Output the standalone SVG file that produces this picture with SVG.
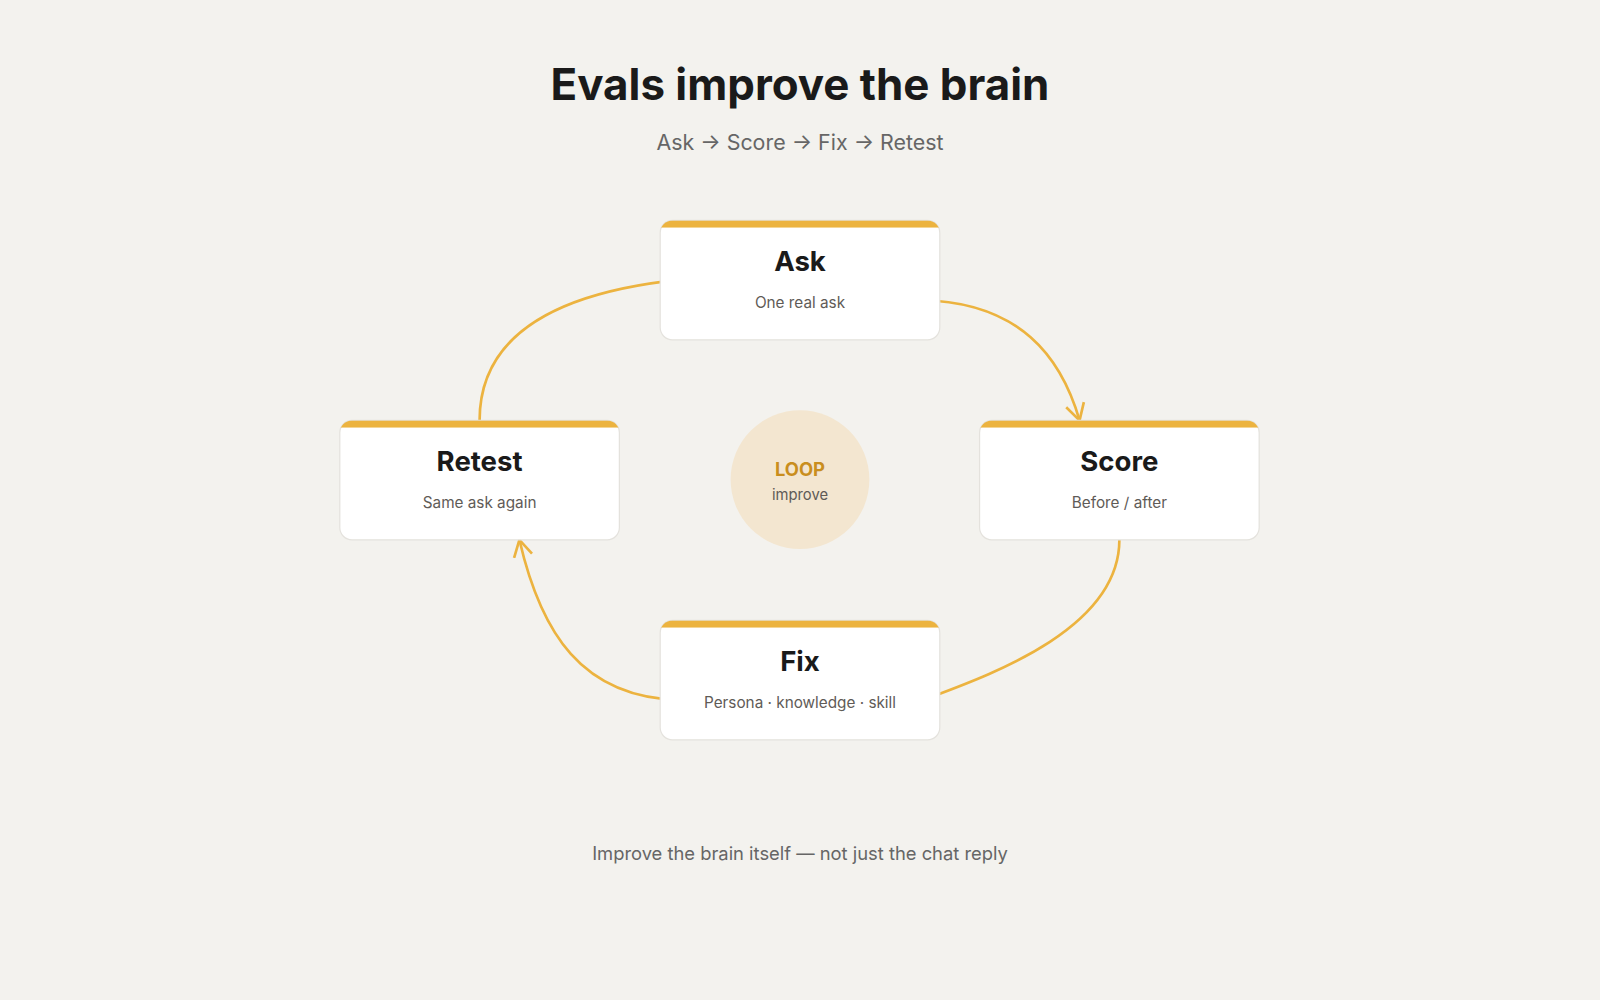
<svg xmlns="http://www.w3.org/2000/svg" width="1600" height="1000" viewBox="0 0 1600 1000">
<style>
.bg{fill:#F3F2EE}
.card{fill:#fff;stroke:#E4E2DD;stroke-width:1.2}
.bar{fill:#ECB33F}
.t{font-family:Inter,"Liberation Sans",sans-serif;text-anchor:middle}
.nt{font-size:27px;font-weight:700;fill:#1A1A1A}
.ns{font-size:15px;fill:#5F5B57}
.c{fill:none;stroke:#ECB33F;stroke-width:2.6}
</style>
<defs>
<marker id="ah" markerUnits="userSpaceOnUse" markerWidth="24" markerHeight="24" refX="17" refY="10" orient="auto" viewBox="0 0 24 20">
<path d="M1,1 L17,10 L1,19" fill="none" stroke="#ECB33F" stroke-width="2.6" stroke-linejoin="miter"/>
</marker>
<clipPath id="cr"><rect x="0" y="0" width="274" height="117" rx="12"/></clipPath>
</defs>
<rect class="bg" width="1600" height="1000"/>
<g transform="scale(1.0204)">
<text class="t" x="784" y="98" font-size="43" font-weight="700" fill="#1A1A1A">Evals improve the brain</text>
<text class="t" x="784" y="147" font-size="21" fill="#666">Ask → Score → Fix → Retest</text>
<g id="connectors">
<path class="c" d="M902,294 C1000,296 1040,350 1058,412" marker-end="url(#ah)"/>
<path class="c" d="M1097,529 C1097,620 960,665 902,687" marker-end="url(#ah)"/>
<path class="c" d="M666,686 C570,684 530,620 509,529" marker-end="url(#ah)"/>
<path class="c" d="M470,412 C470,320 560,285 667,274" marker-end="url(#ah)"/>
</g>
<g id="ask" transform="translate(647,216)">
<rect class="card" width="274" height="117" rx="12"/>
<rect class="bar" width="274" height="7" clip-path="url(#cr)"/>
<text class="t nt" x="137" y="50">Ask</text>
<text class="t ns" x="137" y="86">One real ask</text>
</g>
<g id="score" transform="translate(960,412)">
<rect class="card" width="274" height="117" rx="12"/>
<rect class="bar" width="274" height="7" clip-path="url(#cr)"/>
<text class="t nt" x="137" y="50">Score</text>
<text class="t ns" x="137" y="86">Before / after</text>
</g>
<g id="fix" transform="translate(647,608)">
<rect class="card" width="274" height="117" rx="12"/>
<rect class="bar" width="274" height="7" clip-path="url(#cr)"/>
<text class="t nt" x="137" y="50">Fix</text>
<text class="t ns" x="137" y="86">Persona · knowledge · skill</text>
</g>
<g id="retest" transform="translate(333,412)">
<rect class="card" width="274" height="117" rx="12"/>
<rect class="bar" width="274" height="7" clip-path="url(#cr)"/>
<text class="t nt" x="137" y="50">Retest</text>
<text class="t ns" x="137" y="86">Same ask again</text>
</g>
<g id="loop">
<circle cx="784" cy="470" r="68" fill="#F3E6D0"/>
<text class="t" x="784" y="466" font-size="18" font-weight="700" fill="#C98E1E">LOOP</text>
<text class="t" x="784" y="490" font-size="14.5" fill="#5F5B57">improve</text>
</g>
<text class="t" x="784" y="843" font-size="18" fill="#666">Improve the brain itself — not just the chat reply</text>
</g>
</svg>
